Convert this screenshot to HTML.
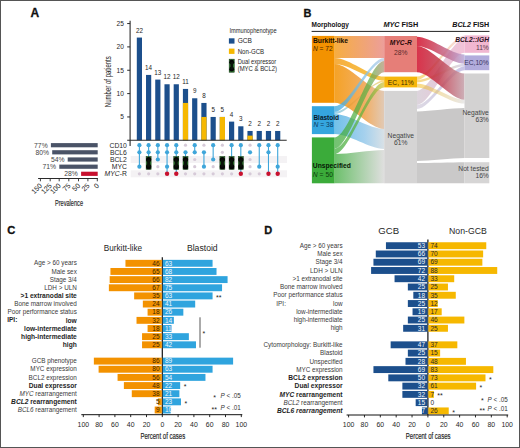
<!DOCTYPE html><html><head><meta charset="utf-8"><style>html,body{margin:0;padding:0;background:#fff;}svg{display:block;}</style></head><body><svg width="520" height="448" viewBox="0 0 520 448" font-family='"Liberation Sans", sans-serif'><defs><linearGradient id="g0" x1="334.6" y1="0" x2="384.2" y2="0" gradientUnits="userSpaceOnUse"><stop offset="0" stop-color="#35a6df"/><stop offset="1" stop-color="#f6b60a"/></linearGradient><linearGradient id="g1" x1="334.6" y1="0" x2="384.2" y2="0" gradientUnits="userSpaceOnUse"><stop offset="0" stop-color="#35a6df"/><stop offset="0.6" stop-color="#7fbde6"/><stop offset="1" stop-color="#c8d4dc"/></linearGradient><linearGradient id="g2" x1="334.6" y1="0" x2="384.2" y2="0" gradientUnits="userSpaceOnUse"><stop offset="0" stop-color="#f39200"/><stop offset="1" stop-color="#e67e78"/></linearGradient><linearGradient id="g3" x1="334.6" y1="0" x2="384.2" y2="0" gradientUnits="userSpaceOnUse"><stop offset="0" stop-color="#f39200"/><stop offset="1" stop-color="#f6b60a"/></linearGradient><linearGradient id="g4" x1="334.6" y1="0" x2="384.2" y2="0" gradientUnits="userSpaceOnUse"><stop offset="0" stop-color="#f39200"/><stop offset="0.6" stop-color="#f0a048"/><stop offset="1" stop-color="#dcc0a8"/></linearGradient><linearGradient id="g5" x1="334.6" y1="0" x2="384.2" y2="0" gradientUnits="userSpaceOnUse"><stop offset="0" stop-color="#35a6df"/><stop offset="0.7" stop-color="#8cc4ea"/><stop offset="1" stop-color="#b8c8e0"/></linearGradient><linearGradient id="g6" x1="334.6" y1="0" x2="384.2" y2="0" gradientUnits="userSpaceOnUse"><stop offset="0" stop-color="#3bab3a"/><stop offset="0.7" stop-color="#60b048"/><stop offset="1" stop-color="#b09070"/></linearGradient><linearGradient id="g7" x1="334.6" y1="0" x2="384.2" y2="0" gradientUnits="userSpaceOnUse"><stop offset="0" stop-color="#3bab3a"/><stop offset="0.7" stop-color="#6cb440"/><stop offset="1" stop-color="#d8c030"/></linearGradient><linearGradient id="g8" x1="334.6" y1="0" x2="384.2" y2="0" gradientUnits="userSpaceOnUse"><stop offset="0" stop-color="#3bab3a"/><stop offset="1" stop-color="#d5d4d4"/></linearGradient><linearGradient id="g9" x1="417.0" y1="0" x2="464.5" y2="0" gradientUnits="userSpaceOnUse"><stop offset="0" stop-color="#d6cdd6"/><stop offset="0.5" stop-color="#e0c0d4"/><stop offset="1" stop-color="#f1b7d1"/></linearGradient><linearGradient id="g10" x1="417.0" y1="0" x2="464.5" y2="0" gradientUnits="userSpaceOnUse"><stop offset="0" stop-color="#d0cad8"/><stop offset="1" stop-color="#b2acdc"/></linearGradient><linearGradient id="g11" x1="417.0" y1="0" x2="464.5" y2="0" gradientUnits="userSpaceOnUse"><stop offset="0" stop-color="#c9c8c8"/><stop offset="1" stop-color="#c9c8c8"/></linearGradient><linearGradient id="g12" x1="417.0" y1="0" x2="464.5" y2="0" gradientUnits="userSpaceOnUse"><stop offset="0" stop-color="#cac9c9"/><stop offset="1" stop-color="#cac9c9"/></linearGradient><linearGradient id="g13" x1="417.0" y1="0" x2="464.5" y2="0" gradientUnits="userSpaceOnUse"><stop offset="0" stop-color="#f6b60a"/><stop offset="1" stop-color="#f1b7d1"/></linearGradient><linearGradient id="g14" x1="417.0" y1="0" x2="464.5" y2="0" gradientUnits="userSpaceOnUse"><stop offset="0" stop-color="#f6b60a"/><stop offset="1" stop-color="#b2acdc"/></linearGradient><linearGradient id="g15" x1="417.0" y1="0" x2="464.5" y2="0" gradientUnits="userSpaceOnUse"><stop offset="0" stop-color="#f6b60a"/><stop offset="1" stop-color="#d3d2d2"/></linearGradient><linearGradient id="g16" x1="417.0" y1="0" x2="464.5" y2="0" gradientUnits="userSpaceOnUse"><stop offset="0" stop-color="#d2102c"/><stop offset="0.35" stop-color="#cc4058"/><stop offset="1" stop-color="#b8a8d8"/></linearGradient><linearGradient id="g17" x1="417.0" y1="0" x2="464.5" y2="0" gradientUnits="userSpaceOnUse"><stop offset="0" stop-color="#d2102c"/><stop offset="0.45" stop-color="#c23a4c"/><stop offset="1" stop-color="#c4a0aa"/></linearGradient></defs><rect x="0" y="0" width="520" height="448" fill="#fff"/><text x="30.60" y="17.24" font-size="12.0" text-anchor="start" fill="#111" font-weight="bold" stroke="#111" stroke-width="0.3">A</text>
<line x1="130.10" y1="20.80" x2="130.10" y2="146.00" stroke="#2a2a2a" stroke-width="1.1"/>
<line x1="127.20" y1="116.95" x2="130.10" y2="116.95" stroke="#2a2a2a" stroke-width="1.0"/>
<text x="123.90" y="119.23" font-size="6.6" text-anchor="end" fill="#262626">5</text>
<line x1="127.20" y1="93.60" x2="130.10" y2="93.60" stroke="#2a2a2a" stroke-width="1.0"/>
<text x="123.90" y="95.88" font-size="6.6" text-anchor="end" fill="#262626">10</text>
<line x1="127.20" y1="70.25" x2="130.10" y2="70.25" stroke="#2a2a2a" stroke-width="1.0"/>
<text x="123.90" y="72.53" font-size="6.6" text-anchor="end" fill="#262626">15</text>
<line x1="127.20" y1="46.90" x2="130.10" y2="46.90" stroke="#2a2a2a" stroke-width="1.0"/>
<text x="123.90" y="49.18" font-size="6.6" text-anchor="end" fill="#262626">20</text>
<line x1="127.20" y1="23.55" x2="130.10" y2="23.55" stroke="#2a2a2a" stroke-width="1.0"/>
<text x="123.90" y="25.83" font-size="6.6" text-anchor="end" fill="#262626">25</text>
<text x="0" y="0" font-size="8.4" text-anchor="middle" fill="#1e1e1e" textLength="51" lengthAdjust="spacingAndGlyphs" transform="translate(110.7,81.7) rotate(-90)">Number of patients</text>
<rect x="136.80" y="37.56" width="5.20" height="102.74" fill="#1c4f8c"/>
<text x="139.40" y="32.73" font-size="6.3" text-anchor="middle" fill="#262626">22</text>
<rect x="146.02" y="74.92" width="5.20" height="65.38" fill="#1c4f8c"/>
<text x="148.62" y="70.09" font-size="6.3" text-anchor="middle" fill="#262626">14</text>
<rect x="155.24" y="79.59" width="5.20" height="60.71" fill="#1c4f8c"/>
<text x="157.84" y="74.76" font-size="6.3" text-anchor="middle" fill="#262626">13</text>
<rect x="164.46" y="84.26" width="5.20" height="56.04" fill="#1c4f8c"/>
<text x="167.06" y="79.43" font-size="6.3" text-anchor="middle" fill="#262626">12</text>
<rect x="173.68" y="84.26" width="5.20" height="56.04" fill="#1c4f8c"/>
<text x="176.28" y="79.43" font-size="6.3" text-anchor="middle" fill="#262626">12</text>
<rect x="182.90" y="88.93" width="5.20" height="51.37" fill="#1c4f8c"/>
<rect x="182.90" y="102.94" width="5.20" height="37.36" fill="#f6b800"/>
<text x="185.50" y="84.10" font-size="6.3" text-anchor="middle" fill="#262626">11</text>
<rect x="192.12" y="98.27" width="5.20" height="42.03" fill="#1c4f8c"/>
<text x="194.72" y="93.44" font-size="6.3" text-anchor="middle" fill="#262626">9</text>
<rect x="201.34" y="102.94" width="5.20" height="37.36" fill="#1c4f8c"/>
<rect x="201.34" y="116.95" width="5.20" height="23.35" fill="#f6b800"/>
<text x="203.94" y="98.11" font-size="6.3" text-anchor="middle" fill="#262626">8</text>
<rect x="210.56" y="116.95" width="5.20" height="23.35" fill="#1c4f8c"/>
<text x="213.16" y="112.12" font-size="6.3" text-anchor="middle" fill="#262626">5</text>
<rect x="219.78" y="116.95" width="5.20" height="23.35" fill="#1c4f8c"/>
<rect x="219.78" y="116.95" width="5.20" height="23.35" fill="#f6b800"/>
<text x="222.38" y="112.12" font-size="6.3" text-anchor="middle" fill="#262626">5</text>
<rect x="229.00" y="121.62" width="5.20" height="18.68" fill="#1c4f8c"/>
<text x="231.60" y="116.79" font-size="6.3" text-anchor="middle" fill="#262626">4</text>
<rect x="238.22" y="126.29" width="5.20" height="14.01" fill="#1c4f8c"/>
<text x="240.82" y="121.46" font-size="6.3" text-anchor="middle" fill="#262626">3</text>
<rect x="247.44" y="130.96" width="5.20" height="9.34" fill="#1c4f8c"/>
<rect x="247.44" y="135.63" width="5.20" height="4.67" fill="#f6b800"/>
<text x="250.04" y="126.13" font-size="6.3" text-anchor="middle" fill="#262626">2</text>
<rect x="256.66" y="130.96" width="5.20" height="9.34" fill="#1c4f8c"/>
<text x="259.26" y="126.13" font-size="6.3" text-anchor="middle" fill="#262626">2</text>
<rect x="265.88" y="130.96" width="5.20" height="9.34" fill="#1c4f8c"/>
<text x="268.48" y="126.13" font-size="6.3" text-anchor="middle" fill="#262626">2</text>
<rect x="275.10" y="130.96" width="5.20" height="9.34" fill="#1c4f8c"/>
<text x="277.70" y="126.13" font-size="6.3" text-anchor="middle" fill="#262626">2</text>
<line x1="127.20" y1="140.30" x2="286.70" y2="140.30" stroke="#2a2a2a" stroke-width="1.1"/>
<text x="229.40" y="33.07" font-size="6.3" text-anchor="start" fill="#262626" textLength="47.20" lengthAdjust="spacingAndGlyphs">Immunophenotype</text>
<rect x="228.90" y="38.30" width="5.60" height="5.30" fill="#1c4f8c"/>
<text x="237.70" y="43.38" font-size="6.6" text-anchor="start" fill="#262626">GCB</text>
<rect x="228.90" y="48.60" width="5.60" height="5.30" fill="#f6b800"/>
<text x="237.70" y="53.58" font-size="6.6" text-anchor="start" fill="#262626" textLength="26.50" lengthAdjust="spacingAndGlyphs">Non-GCB</text>
<rect x="229.20" y="59.20" width="5.00" height="13.00" fill="#2f7d32" stroke="#143d14" stroke-width="0.6"/>
<circle cx="231.70" cy="62.20" r="2.4" fill="#050505"/>
<circle cx="231.70" cy="69.20" r="2.4" fill="#050505"/>
<rect x="230.40" y="62.00" width="2.60" height="7.40" fill="#0a140a"/>
<text x="237.70" y="64.28" font-size="6.6" text-anchor="start" fill="#262626" textLength="38.40" lengthAdjust="spacingAndGlyphs">Dual expressor</text>
<text x="237.70" y="71.28" font-size="6.6" text-anchor="start" fill="#262626" textLength="39.30" lengthAdjust="spacingAndGlyphs">(MYC &amp; BCL2)</text>
<text x="126.90" y="147.55" font-size="6.8" text-anchor="end" fill="#262626">CD10</text>
<text x="126.90" y="154.65" font-size="6.8" text-anchor="end" fill="#262626">BCL6</text>
<text x="126.90" y="161.85" font-size="6.8" text-anchor="end" fill="#262626">BCL2</text>
<text x="126.90" y="169.05" font-size="6.8" text-anchor="end" fill="#262626">MYC</text>
<text x="126.90" y="176.15" font-size="6.8" text-anchor="end" fill="#262626"><tspan font-style="italic">MYC</tspan>-R</text>
<rect x="130.70" y="156.00" width="156.30" height="7.00" fill="#f4f2f4"/>
<rect x="130.70" y="170.30" width="156.30" height="7.00" fill="#f4f2f4"/>
<line x1="139.40" y1="145.20" x2="139.40" y2="166.70" stroke="#3fa6da" stroke-width="1.1"/>
<circle cx="139.40" cy="145.20" r="2.1" fill="#3fa6da"/>
<circle cx="139.40" cy="152.30" r="2.1" fill="#3fa6da"/>
<circle cx="139.40" cy="166.70" r="2.1" fill="#3fa6da"/>
<circle cx="139.40" cy="173.80" r="1.6" fill="#d6cad8"/>
<line x1="148.62" y1="145.20" x2="148.62" y2="166.70" stroke="#3fa6da" stroke-width="1.1"/>
<circle cx="148.62" cy="145.20" r="2.1" fill="#3fa6da"/>
<circle cx="148.62" cy="152.30" r="2.1" fill="#3fa6da"/>
<circle cx="148.62" cy="173.80" r="1.6" fill="#d6cad8"/>
<rect x="146.12" y="156.50" width="5.00" height="12.80" fill="#2a7a2a" stroke="#0e2e0e" stroke-width="0.5"/>
<circle cx="148.62" cy="159.50" r="2.6" fill="#050505"/>
<circle cx="148.62" cy="166.70" r="2.6" fill="#050505"/>
<rect x="147.12" y="159.50" width="3.00" height="7.20" fill="#081208"/>
<line x1="157.84" y1="145.20" x2="157.84" y2="159.50" stroke="#3fa6da" stroke-width="1.1"/>
<circle cx="157.84" cy="145.20" r="2.1" fill="#3fa6da"/>
<circle cx="157.84" cy="152.30" r="2.1" fill="#3fa6da"/>
<circle cx="157.84" cy="159.50" r="2.1" fill="#3fa6da"/>
<circle cx="157.84" cy="166.70" r="1.6" fill="#d6cad8"/>
<circle cx="157.84" cy="173.80" r="1.6" fill="#d6cad8"/>
<line x1="167.06" y1="145.20" x2="167.06" y2="173.80" stroke="#3fa6da" stroke-width="1.1"/>
<circle cx="167.06" cy="145.20" r="2.1" fill="#3fa6da"/>
<circle cx="167.06" cy="152.30" r="2.1" fill="#3fa6da"/>
<circle cx="167.06" cy="166.70" r="2.1" fill="#3fa6da"/>
<circle cx="167.06" cy="173.80" r="2.2" fill="#c8102e"/>
<line x1="176.28" y1="145.20" x2="176.28" y2="173.80" stroke="#3fa6da" stroke-width="1.1"/>
<circle cx="176.28" cy="145.20" r="2.1" fill="#3fa6da"/>
<circle cx="176.28" cy="152.30" r="2.1" fill="#3fa6da"/>
<circle cx="176.28" cy="173.80" r="2.2" fill="#c8102e"/>
<rect x="173.78" y="156.50" width="5.00" height="12.80" fill="#2a7a2a" stroke="#0e2e0e" stroke-width="0.5"/>
<circle cx="176.28" cy="159.50" r="2.6" fill="#050505"/>
<circle cx="176.28" cy="166.70" r="2.6" fill="#050505"/>
<rect x="174.78" y="159.50" width="3.00" height="7.20" fill="#081208"/>
<line x1="185.50" y1="152.30" x2="185.50" y2="166.70" stroke="#3fa6da" stroke-width="1.1"/>
<circle cx="185.50" cy="145.20" r="1.6" fill="#d6cad8"/>
<circle cx="185.50" cy="152.30" r="2.1" fill="#3fa6da"/>
<circle cx="185.50" cy="173.80" r="1.6" fill="#d6cad8"/>
<rect x="183.00" y="156.50" width="5.00" height="12.80" fill="#2a7a2a" stroke="#0e2e0e" stroke-width="0.5"/>
<circle cx="185.50" cy="159.50" r="2.6" fill="#050505"/>
<circle cx="185.50" cy="166.70" r="2.6" fill="#050505"/>
<rect x="184.00" y="159.50" width="3.00" height="7.20" fill="#081208"/>
<line x1="194.72" y1="145.20" x2="194.72" y2="152.30" stroke="#3fa6da" stroke-width="1.1"/>
<circle cx="194.72" cy="145.20" r="2.1" fill="#3fa6da"/>
<circle cx="194.72" cy="152.30" r="2.1" fill="#3fa6da"/>
<circle cx="194.72" cy="159.50" r="1.6" fill="#d6cad8"/>
<circle cx="194.72" cy="166.70" r="1.6" fill="#d6cad8"/>
<circle cx="194.72" cy="173.80" r="1.6" fill="#d6cad8"/>
<line x1="203.94" y1="152.30" x2="203.94" y2="166.70" stroke="#3fa6da" stroke-width="1.1"/>
<circle cx="203.94" cy="145.20" r="1.6" fill="#d6cad8"/>
<circle cx="203.94" cy="152.30" r="2.1" fill="#3fa6da"/>
<circle cx="203.94" cy="166.70" r="2.1" fill="#3fa6da"/>
<circle cx="203.94" cy="173.80" r="1.6" fill="#d6cad8"/>
<line x1="213.16" y1="145.20" x2="213.16" y2="159.50" stroke="#3fa6da" stroke-width="1.1"/>
<circle cx="213.16" cy="145.20" r="2.1" fill="#3fa6da"/>
<circle cx="213.16" cy="159.50" r="2.1" fill="#3fa6da"/>
<circle cx="213.16" cy="166.70" r="1.6" fill="#d6cad8"/>
<circle cx="213.16" cy="173.80" r="1.6" fill="#d6cad8"/>
<line x1="222.38" y1="159.50" x2="222.38" y2="166.70" stroke="#3fa6da" stroke-width="1.1"/>
<circle cx="222.38" cy="145.20" r="1.6" fill="#d6cad8"/>
<circle cx="222.38" cy="152.30" r="1.6" fill="#d6cad8"/>
<circle cx="222.38" cy="173.80" r="1.6" fill="#d6cad8"/>
<rect x="219.88" y="156.50" width="5.00" height="12.80" fill="#2a7a2a" stroke="#0e2e0e" stroke-width="0.5"/>
<circle cx="222.38" cy="159.50" r="2.6" fill="#050505"/>
<circle cx="222.38" cy="166.70" r="2.6" fill="#050505"/>
<rect x="220.88" y="159.50" width="3.00" height="7.20" fill="#081208"/>
<line x1="231.60" y1="145.20" x2="231.60" y2="166.70" stroke="#3fa6da" stroke-width="1.1"/>
<circle cx="231.60" cy="145.20" r="2.1" fill="#3fa6da"/>
<circle cx="231.60" cy="173.80" r="1.6" fill="#d6cad8"/>
<rect x="229.10" y="156.50" width="5.00" height="12.80" fill="#2a7a2a" stroke="#0e2e0e" stroke-width="0.5"/>
<circle cx="231.60" cy="159.50" r="2.6" fill="#050505"/>
<circle cx="231.60" cy="166.70" r="2.6" fill="#050505"/>
<rect x="230.10" y="159.50" width="3.00" height="7.20" fill="#081208"/>
<line x1="240.82" y1="145.20" x2="240.82" y2="173.80" stroke="#3fa6da" stroke-width="1.1"/>
<circle cx="240.82" cy="145.20" r="2.1" fill="#3fa6da"/>
<circle cx="240.82" cy="173.80" r="2.2" fill="#c8102e"/>
<rect x="238.32" y="156.50" width="5.00" height="12.80" fill="#2a7a2a" stroke="#0e2e0e" stroke-width="0.5"/>
<circle cx="240.82" cy="159.50" r="2.6" fill="#050505"/>
<circle cx="240.82" cy="166.70" r="2.6" fill="#050505"/>
<rect x="239.32" y="159.50" width="3.00" height="7.20" fill="#081208"/>
<circle cx="250.04" cy="145.20" r="1.6" fill="#d6cad8"/>
<circle cx="250.04" cy="152.30" r="2.1" fill="#3fa6da"/>
<circle cx="250.04" cy="159.50" r="1.6" fill="#d6cad8"/>
<circle cx="250.04" cy="166.70" r="1.6" fill="#d6cad8"/>
<circle cx="250.04" cy="173.80" r="1.6" fill="#d6cad8"/>
<line x1="259.26" y1="145.20" x2="259.26" y2="166.70" stroke="#3fa6da" stroke-width="1.1"/>
<circle cx="259.26" cy="145.20" r="2.1" fill="#3fa6da"/>
<circle cx="259.26" cy="166.70" r="2.1" fill="#3fa6da"/>
<circle cx="259.26" cy="173.80" r="1.6" fill="#d6cad8"/>
<line x1="268.48" y1="145.20" x2="268.48" y2="173.80" stroke="#3fa6da" stroke-width="1.1"/>
<circle cx="268.48" cy="145.20" r="2.1" fill="#3fa6da"/>
<circle cx="268.48" cy="152.30" r="2.1" fill="#3fa6da"/>
<circle cx="268.48" cy="173.80" r="2.2" fill="#c8102e"/>
<line x1="277.70" y1="145.20" x2="277.70" y2="173.80" stroke="#3fa6da" stroke-width="1.1"/>
<circle cx="277.70" cy="145.20" r="2.1" fill="#3fa6da"/>
<circle cx="277.70" cy="166.70" r="2.1" fill="#3fa6da"/>
<circle cx="277.70" cy="173.80" r="2.2" fill="#c8102e"/>
<rect x="50.90" y="143.10" width="46.80" height="4.20" fill="#4a5367"/>
<text x="47.70" y="147.55" font-size="6.8" text-anchor="end" fill="#444">77%</text>
<rect x="52.20" y="150.20" width="45.50" height="4.20" fill="#4a5367"/>
<text x="49.00" y="154.65" font-size="6.8" text-anchor="end" fill="#444">80%</text>
<rect x="67.70" y="157.40" width="30.00" height="4.20" fill="#4a5367"/>
<text x="64.50" y="161.85" font-size="6.8" text-anchor="end" fill="#444">54%</text>
<rect x="59.30" y="164.60" width="38.40" height="4.20" fill="#4a5367"/>
<text x="56.10" y="169.05" font-size="6.8" text-anchor="end" fill="#444">71%</text>
<rect x="81.10" y="171.70" width="16.60" height="4.20" fill="#c8102e"/>
<text x="77.90" y="176.15" font-size="6.8" text-anchor="end" fill="#444">28%</text>
<line x1="38.10" y1="178.50" x2="97.90" y2="178.50" stroke="#2a2a2a" stroke-width="1.1"/>
<line x1="40.40" y1="178.50" x2="40.40" y2="181.30" stroke="#2a2a2a" stroke-width="0.9"/>
<text x="0" y="0" font-size="7.1" text-anchor="end" fill="#262626" transform="translate(42.60,186.2) rotate(-45)">150</text>
<line x1="50.20" y1="178.50" x2="50.20" y2="181.30" stroke="#2a2a2a" stroke-width="0.9"/>
<text x="0" y="0" font-size="7.1" text-anchor="end" fill="#262626" transform="translate(52.40,186.2) rotate(-45)">125</text>
<line x1="59.20" y1="178.50" x2="59.20" y2="181.30" stroke="#2a2a2a" stroke-width="0.9"/>
<text x="0" y="0" font-size="7.1" text-anchor="end" fill="#262626" transform="translate(61.40,186.2) rotate(-45)">100</text>
<line x1="68.80" y1="178.50" x2="68.80" y2="181.30" stroke="#2a2a2a" stroke-width="0.9"/>
<text x="0" y="0" font-size="7.1" text-anchor="end" fill="#262626" transform="translate(71.00,186.2) rotate(-45)">75</text>
<line x1="78.50" y1="178.50" x2="78.50" y2="181.30" stroke="#2a2a2a" stroke-width="0.9"/>
<text x="0" y="0" font-size="7.1" text-anchor="end" fill="#262626" transform="translate(80.70,186.2) rotate(-45)">50</text>
<line x1="87.90" y1="178.50" x2="87.90" y2="181.30" stroke="#2a2a2a" stroke-width="0.9"/>
<text x="0" y="0" font-size="7.1" text-anchor="end" fill="#262626" transform="translate(90.10,186.2) rotate(-45)">25</text>
<line x1="97.30" y1="178.50" x2="97.30" y2="181.30" stroke="#2a2a2a" stroke-width="0.9"/>
<text x="0" y="0" font-size="7.1" text-anchor="end" fill="#262626" transform="translate(99.50,186.2) rotate(-45)">0</text>
<text x="69.00" y="205.77" font-size="8.6" text-anchor="middle" fill="#1e1e1e" textLength="28.00" lengthAdjust="spacingAndGlyphs" stroke="#1e1e1e" stroke-width="0.15">Prevalence</text>
<text x="7.30" y="233.66" font-size="11.2" text-anchor="start" fill="#111" font-weight="bold" stroke="#111" stroke-width="0.3">C</text>
<text x="122.90" y="251.16" font-size="8.3" text-anchor="middle" fill="#1e1e1e" textLength="38.40" lengthAdjust="spacingAndGlyphs">Burkitt-like</text>
<text x="202.30" y="251.16" font-size="8.3" text-anchor="middle" fill="#1e1e1e" textLength="30.80" lengthAdjust="spacingAndGlyphs">Blastoid</text>
<line x1="162.30" y1="257.20" x2="162.30" y2="414.70" stroke="#111" stroke-width="1.2"/>
<rect x="125.46" y="259.85" width="36.34" height="6.90" fill="#f39200"/>
<rect x="162.80" y="259.85" width="49.77" height="6.90" fill="#2fa4de"/>
<text x="159.50" y="265.54" font-size="6.5" text-anchor="end" fill="#3a2500">46</text>
<text x="164.90" y="265.54" font-size="6.5" text-anchor="start" fill="#f0f8fd">63</text>
<text x="76.80" y="265.48" font-size="6.33" text-anchor="end" fill="#3a3a3a">Age &gt; 60 years</text>
<rect x="110.45" y="268.00" width="51.35" height="6.90" fill="#f39200"/>
<rect x="162.80" y="268.00" width="53.72" height="6.90" fill="#2fa4de"/>
<text x="159.50" y="273.69" font-size="6.5" text-anchor="end" fill="#3a2500">65</text>
<text x="164.90" y="273.69" font-size="6.5" text-anchor="start" fill="#f0f8fd">68</text>
<text x="76.80" y="273.63" font-size="6.33" text-anchor="end" fill="#3a3a3a">Male sex</text>
<rect x="109.66" y="276.15" width="52.14" height="6.90" fill="#f39200"/>
<rect x="162.80" y="276.15" width="64.78" height="6.90" fill="#2fa4de"/>
<text x="159.50" y="281.84" font-size="6.5" text-anchor="end" fill="#3a2500">66</text>
<text x="164.90" y="281.84" font-size="6.5" text-anchor="start" fill="#f0f8fd">82</text>
<text x="76.80" y="281.78" font-size="6.33" text-anchor="end" fill="#3a3a3a">Stage 3/4</text>
<rect x="108.87" y="284.30" width="52.93" height="6.90" fill="#f39200"/>
<rect x="162.80" y="284.30" width="59.25" height="6.90" fill="#2fa4de"/>
<text x="159.50" y="289.99" font-size="6.5" text-anchor="end" fill="#3a2500">67</text>
<text x="164.90" y="289.99" font-size="6.5" text-anchor="start" fill="#f0f8fd">75</text>
<text x="76.80" y="289.93" font-size="6.33" text-anchor="end" fill="#3a3a3a">LDH &gt; ULN</text>
<rect x="134.15" y="292.45" width="27.65" height="6.90" fill="#f39200"/>
<rect x="162.80" y="292.45" width="49.77" height="6.90" fill="#2fa4de"/>
<text x="159.50" y="298.14" font-size="6.5" text-anchor="end" fill="#3a2500">35</text>
<text x="164.90" y="298.14" font-size="6.5" text-anchor="start" fill="#f0f8fd">63</text>
<text x="76.80" y="298.19" font-size="6.65" text-anchor="end" fill="#1e1e1e" font-weight="bold">&gt;1 extranodal site</text>
<text x="216.07" y="299.82" font-size="7.0" text-anchor="start" fill="#222">**</text>
<rect x="142.84" y="300.60" width="18.96" height="6.90" fill="#f39200"/>
<rect x="162.80" y="300.60" width="32.39" height="6.90" fill="#2fa4de"/>
<text x="159.50" y="306.29" font-size="6.5" text-anchor="end" fill="#3a2500">24</text>
<text x="164.90" y="306.29" font-size="6.5" text-anchor="start" fill="#f0f8fd">41</text>
<text x="76.80" y="306.23" font-size="6.33" text-anchor="end" fill="#3a3a3a">Bone marrow involved</text>
<rect x="147.58" y="308.75" width="14.22" height="6.90" fill="#f39200"/>
<rect x="162.80" y="308.75" width="20.54" height="6.90" fill="#2fa4de"/>
<text x="159.50" y="314.44" font-size="6.5" text-anchor="end" fill="#3a2500">18</text>
<text x="164.90" y="314.44" font-size="6.5" text-anchor="start" fill="#f0f8fd">26</text>
<text x="76.80" y="314.38" font-size="6.33" text-anchor="end" fill="#3a3a3a">Poor performance status</text>
<rect x="136.52" y="316.90" width="25.28" height="6.90" fill="#f39200"/>
<rect x="162.80" y="316.90" width="11.06" height="6.90" fill="#2fa4de"/>
<text x="159.50" y="322.59" font-size="6.5" text-anchor="end" fill="#3a2500">32</text>
<text x="164.90" y="322.59" font-size="6.5" text-anchor="start" fill="#f0f8fd">14</text>
<text x="76.80" y="322.64" font-size="6.65" text-anchor="end" fill="#1e1e1e" font-weight="bold">low</text>
<rect x="147.58" y="325.05" width="14.22" height="6.90" fill="#f39200"/>
<rect x="162.80" y="325.05" width="8.69" height="6.90" fill="#2fa4de"/>
<text x="159.50" y="330.74" font-size="6.5" text-anchor="end" fill="#3a2500">18</text>
<text x="164.90" y="330.74" font-size="6.5" text-anchor="start" fill="#f0f8fd">11</text>
<text x="76.80" y="330.79" font-size="6.65" text-anchor="end" fill="#1e1e1e" font-weight="bold">low-intermediate</text>
<rect x="142.05" y="333.20" width="19.75" height="6.90" fill="#f39200"/>
<rect x="162.80" y="333.20" width="26.07" height="6.90" fill="#2fa4de"/>
<text x="159.50" y="338.89" font-size="6.5" text-anchor="end" fill="#3a2500">25</text>
<text x="164.90" y="338.89" font-size="6.5" text-anchor="start" fill="#f0f8fd">33</text>
<text x="76.80" y="338.94" font-size="6.65" text-anchor="end" fill="#1e1e1e" font-weight="bold">high-intermediate</text>
<rect x="142.05" y="341.35" width="19.75" height="6.90" fill="#f39200"/>
<rect x="162.80" y="341.35" width="33.18" height="6.90" fill="#2fa4de"/>
<text x="159.50" y="347.04" font-size="6.5" text-anchor="end" fill="#3a2500">25</text>
<text x="164.90" y="347.04" font-size="6.5" text-anchor="start" fill="#f0f8fd">42</text>
<text x="76.80" y="347.09" font-size="6.65" text-anchor="end" fill="#1e1e1e" font-weight="bold">high</text>
<rect x="93.86" y="357.65" width="67.94" height="6.90" fill="#f39200"/>
<rect x="162.80" y="357.65" width="70.31" height="6.90" fill="#2fa4de"/>
<text x="159.50" y="363.34" font-size="6.5" text-anchor="end" fill="#3a2500">86</text>
<text x="164.90" y="363.34" font-size="6.5" text-anchor="start" fill="#f0f8fd">89</text>
<text x="76.80" y="363.28" font-size="6.33" text-anchor="end" fill="#3a3a3a">GCB phenotype</text>
<rect x="98.60" y="365.80" width="63.20" height="6.90" fill="#f39200"/>
<rect x="162.80" y="365.80" width="49.77" height="6.90" fill="#2fa4de"/>
<text x="159.50" y="371.49" font-size="6.5" text-anchor="end" fill="#3a2500">80</text>
<text x="164.90" y="371.49" font-size="6.5" text-anchor="start" fill="#f0f8fd">63</text>
<text x="76.80" y="371.43" font-size="6.33" text-anchor="end" fill="#3a3a3a">MYC expression</text>
<rect x="117.56" y="373.95" width="44.24" height="6.90" fill="#f39200"/>
<rect x="162.80" y="373.95" width="42.66" height="6.90" fill="#2fa4de"/>
<text x="159.50" y="379.64" font-size="6.5" text-anchor="end" fill="#3a2500">56</text>
<text x="164.90" y="379.64" font-size="6.5" text-anchor="start" fill="#f0f8fd">54</text>
<text x="76.80" y="379.58" font-size="6.33" text-anchor="end" fill="#3a3a3a">BCL2 expression</text>
<rect x="123.88" y="382.10" width="37.92" height="6.90" fill="#f39200"/>
<rect x="162.80" y="382.10" width="17.38" height="6.90" fill="#2fa4de"/>
<text x="159.50" y="387.79" font-size="6.5" text-anchor="end" fill="#3a2500">48</text>
<text x="164.90" y="387.79" font-size="6.5" text-anchor="start" fill="#f0f8fd">22</text>
<text x="76.80" y="387.84" font-size="6.65" text-anchor="end" fill="#1e1e1e" font-weight="bold">Dual expressor</text>
<text x="183.68" y="389.47" font-size="7.0" text-anchor="start" fill="#222">*</text>
<rect x="131.78" y="390.25" width="30.02" height="6.90" fill="#f39200"/>
<rect x="162.80" y="390.25" width="16.59" height="6.90" fill="#2fa4de"/>
<text x="159.50" y="395.94" font-size="6.5" text-anchor="end" fill="#3a2500">38</text>
<text x="164.90" y="395.94" font-size="6.5" text-anchor="start" fill="#f0f8fd">21</text>
<text x="76.80" y="395.88" font-size="6.33" text-anchor="end" fill="#3a3a3a"><tspan font-style="italic">MYC</tspan> rearrangement</text>
<rect x="157.85" y="398.40" width="3.95" height="6.90" fill="#f39200"/>
<rect x="162.80" y="398.40" width="18.17" height="6.90" fill="#2fa4de"/>
<text x="159.50" y="404.09" font-size="6.5" text-anchor="end" fill="#3a2500">5</text>
<text x="164.90" y="404.09" font-size="6.5" text-anchor="start" fill="#f0f8fd">23</text>
<text x="76.80" y="404.14" font-size="6.65" text-anchor="end" fill="#1e1e1e" font-weight="bold"><tspan font-style="italic">BCL2</tspan> rearrangement</text>
<text x="184.47" y="405.77" font-size="7.0" text-anchor="start" fill="#222">*</text>
<rect x="154.69" y="406.55" width="7.11" height="6.90" fill="#f39200"/>
<rect x="162.80" y="406.55" width="7.90" height="6.90" fill="#2fa4de"/>
<text x="159.50" y="412.24" font-size="6.5" text-anchor="end" fill="#3a2500">9</text>
<text x="164.90" y="412.24" font-size="6.5" text-anchor="start" fill="#f0f8fd">10</text>
<text x="76.80" y="412.18" font-size="6.33" text-anchor="end" fill="#3a3a3a"><tspan font-style="italic">BCL6</tspan> rearrangement</text>
<line x1="81.30" y1="414.70" x2="242.30" y2="414.70" stroke="#111" stroke-width="1.0"/>
<line x1="162.30" y1="414.70" x2="162.30" y2="417.10" stroke="#111" stroke-width="0.9"/>
<text x="162.30" y="426.98" font-size="6.9" text-anchor="middle" fill="#262626">0</text>
<line x1="146.50" y1="414.70" x2="146.50" y2="417.10" stroke="#111" stroke-width="0.9"/>
<text x="146.50" y="426.98" font-size="6.9" text-anchor="middle" fill="#262626">20</text>
<line x1="178.10" y1="414.70" x2="178.10" y2="417.10" stroke="#111" stroke-width="0.9"/>
<text x="178.10" y="426.98" font-size="6.9" text-anchor="middle" fill="#262626">20</text>
<line x1="130.70" y1="414.70" x2="130.70" y2="417.10" stroke="#111" stroke-width="0.9"/>
<text x="130.70" y="426.98" font-size="6.9" text-anchor="middle" fill="#262626">40</text>
<line x1="193.90" y1="414.70" x2="193.90" y2="417.10" stroke="#111" stroke-width="0.9"/>
<text x="193.90" y="426.98" font-size="6.9" text-anchor="middle" fill="#262626">40</text>
<line x1="114.90" y1="414.70" x2="114.90" y2="417.10" stroke="#111" stroke-width="0.9"/>
<text x="114.90" y="426.98" font-size="6.9" text-anchor="middle" fill="#262626">60</text>
<line x1="209.70" y1="414.70" x2="209.70" y2="417.10" stroke="#111" stroke-width="0.9"/>
<text x="209.70" y="426.98" font-size="6.9" text-anchor="middle" fill="#262626">60</text>
<line x1="99.10" y1="414.70" x2="99.10" y2="417.10" stroke="#111" stroke-width="0.9"/>
<text x="99.10" y="426.98" font-size="6.9" text-anchor="middle" fill="#262626">80</text>
<line x1="225.50" y1="414.70" x2="225.50" y2="417.10" stroke="#111" stroke-width="0.9"/>
<text x="225.50" y="426.98" font-size="6.9" text-anchor="middle" fill="#262626">80</text>
<line x1="83.30" y1="414.70" x2="83.30" y2="417.10" stroke="#111" stroke-width="0.9"/>
<text x="83.30" y="426.98" font-size="6.9" text-anchor="middle" fill="#262626">100</text>
<line x1="241.30" y1="414.70" x2="241.30" y2="417.10" stroke="#111" stroke-width="0.9"/>
<text x="241.30" y="426.98" font-size="6.9" text-anchor="middle" fill="#262626">100</text>
<text x="7.20" y="322.24" font-size="6.5" text-anchor="start" fill="#222" font-weight="bold">IPI:</text>
<line x1="200.00" y1="317.30" x2="200.00" y2="347.70" stroke="#444" stroke-width="0.9"/>
<text x="202.40" y="336.42" font-size="7.0" text-anchor="start" fill="#222">*</text>
<text x="213.30" y="400.02" font-size="7.0" text-anchor="start" fill="#222">*</text>
<text x="220.50" y="398.37" font-size="6.3" text-anchor="start" fill="#333"><tspan font-style="italic">P</tspan> &lt; .05</text>
<text x="211.60" y="411.62" font-size="7.0" text-anchor="start" fill="#222">**</text>
<text x="220.50" y="409.87" font-size="6.3" text-anchor="start" fill="#333"><tspan font-style="italic">P</tspan> &lt; .01</text>
<text x="162.80" y="439.07" font-size="9.2" text-anchor="middle" fill="#1e1e1e" textLength="44.70" lengthAdjust="spacingAndGlyphs" stroke="#1e1e1e" stroke-width="0.18">Percent of cases</text>
<text x="264.20" y="233.99" font-size="11.0" text-anchor="start" fill="#111" font-weight="bold" stroke="#111" stroke-width="0.3">D</text>
<text x="388.70" y="234.16" font-size="8.3" text-anchor="middle" fill="#1e1e1e" textLength="20.80" lengthAdjust="spacingAndGlyphs">GCB</text>
<text x="467.90" y="234.16" font-size="8.3" text-anchor="middle" fill="#1e1e1e" textLength="37.70" lengthAdjust="spacingAndGlyphs">Non-GCB</text>
<line x1="427.90" y1="239.60" x2="427.90" y2="415.00" stroke="#111" stroke-width="1.2"/>
<rect x="385.95" y="242.25" width="41.45" height="6.90" fill="#1c4f8c"/>
<rect x="428.40" y="242.25" width="57.87" height="6.90" fill="#f6b800"/>
<text x="425.10" y="247.94" font-size="6.5" text-anchor="end" fill="#f4f7fc">53</text>
<text x="430.50" y="247.94" font-size="6.5" text-anchor="start" fill="#2a2a2a">74</text>
<text x="342.60" y="247.88" font-size="6.33" text-anchor="end" fill="#3a3a3a">Age &gt; 60 years</text>
<rect x="375.79" y="250.51" width="51.61" height="6.90" fill="#1c4f8c"/>
<rect x="428.40" y="250.51" width="54.74" height="6.90" fill="#f6b800"/>
<text x="425.10" y="256.20" font-size="6.5" text-anchor="end" fill="#f4f7fc">66</text>
<text x="430.50" y="256.20" font-size="6.5" text-anchor="start" fill="#2a2a2a">70</text>
<text x="342.60" y="256.14" font-size="6.33" text-anchor="end" fill="#3a3a3a">Male sex</text>
<rect x="373.44" y="258.77" width="53.96" height="6.90" fill="#1c4f8c"/>
<rect x="428.40" y="258.77" width="53.96" height="6.90" fill="#f6b800"/>
<text x="425.10" y="264.46" font-size="6.5" text-anchor="end" fill="#f4f7fc">69</text>
<text x="430.50" y="264.46" font-size="6.5" text-anchor="start" fill="#2a2a2a">69</text>
<text x="342.60" y="264.40" font-size="6.33" text-anchor="end" fill="#3a3a3a">Stage 3/4</text>
<rect x="371.10" y="267.03" width="56.30" height="6.90" fill="#1c4f8c"/>
<rect x="428.40" y="267.03" width="68.82" height="6.90" fill="#f6b800"/>
<text x="425.10" y="272.72" font-size="6.5" text-anchor="end" fill="#f4f7fc">72</text>
<text x="430.50" y="272.72" font-size="6.5" text-anchor="start" fill="#2a2a2a">88</text>
<text x="342.60" y="272.66" font-size="6.33" text-anchor="end" fill="#3a3a3a">LDH &gt; ULN</text>
<rect x="394.56" y="275.29" width="32.84" height="6.90" fill="#1c4f8c"/>
<rect x="428.40" y="275.29" width="25.81" height="6.90" fill="#f6b800"/>
<text x="425.10" y="280.98" font-size="6.5" text-anchor="end" fill="#f4f7fc">42</text>
<text x="430.50" y="280.98" font-size="6.5" text-anchor="start" fill="#2a2a2a">33</text>
<text x="342.60" y="280.92" font-size="6.33" text-anchor="end" fill="#3a3a3a">&gt;1 extranodal site</text>
<rect x="407.85" y="283.55" width="19.55" height="6.90" fill="#1c4f8c"/>
<rect x="428.40" y="283.55" width="19.55" height="6.90" fill="#f6b800"/>
<text x="425.10" y="289.24" font-size="6.5" text-anchor="end" fill="#f4f7fc">25</text>
<text x="430.50" y="289.24" font-size="6.5" text-anchor="start" fill="#2a2a2a">25</text>
<text x="342.60" y="289.18" font-size="6.33" text-anchor="end" fill="#3a3a3a">Bone marrow involved</text>
<rect x="413.32" y="291.81" width="14.08" height="6.90" fill="#1c4f8c"/>
<rect x="428.40" y="291.81" width="27.37" height="6.90" fill="#f6b800"/>
<text x="425.10" y="297.50" font-size="6.5" text-anchor="end" fill="#f4f7fc">18</text>
<text x="430.50" y="297.50" font-size="6.5" text-anchor="start" fill="#2a2a2a">35</text>
<text x="342.60" y="297.44" font-size="6.33" text-anchor="end" fill="#3a3a3a">Poor performance status</text>
<rect x="407.85" y="300.07" width="19.55" height="6.90" fill="#1c4f8c"/>
<rect x="428.40" y="300.07" width="9.38" height="6.90" fill="#f6b800"/>
<text x="425.10" y="305.76" font-size="6.5" text-anchor="end" fill="#f4f7fc">25</text>
<text x="430.50" y="305.76" font-size="6.5" text-anchor="start" fill="#2a2a2a">12</text>
<text x="342.60" y="305.70" font-size="6.33" text-anchor="end" fill="#3a3a3a">low</text>
<rect x="412.54" y="308.33" width="14.86" height="6.90" fill="#1c4f8c"/>
<rect x="428.40" y="308.33" width="13.29" height="6.90" fill="#f6b800"/>
<text x="425.10" y="314.02" font-size="6.5" text-anchor="end" fill="#f4f7fc">19</text>
<text x="430.50" y="314.02" font-size="6.5" text-anchor="start" fill="#2a2a2a">17</text>
<text x="342.60" y="313.96" font-size="6.33" text-anchor="end" fill="#3a3a3a">low-intermediate</text>
<rect x="407.85" y="316.59" width="19.55" height="6.90" fill="#1c4f8c"/>
<rect x="428.40" y="316.59" width="35.97" height="6.90" fill="#f6b800"/>
<text x="425.10" y="322.28" font-size="6.5" text-anchor="end" fill="#f4f7fc">25</text>
<text x="430.50" y="322.28" font-size="6.5" text-anchor="start" fill="#2a2a2a">46</text>
<text x="342.60" y="322.22" font-size="6.33" text-anchor="end" fill="#3a3a3a">high-intermediate</text>
<rect x="403.16" y="324.85" width="24.24" height="6.90" fill="#1c4f8c"/>
<rect x="428.40" y="324.85" width="19.55" height="6.90" fill="#f6b800"/>
<text x="425.10" y="330.54" font-size="6.5" text-anchor="end" fill="#f4f7fc">31</text>
<text x="430.50" y="330.54" font-size="6.5" text-anchor="start" fill="#2a2a2a">25</text>
<text x="342.60" y="330.48" font-size="6.33" text-anchor="end" fill="#3a3a3a">high</text>
<rect x="390.65" y="341.37" width="36.75" height="6.90" fill="#1c4f8c"/>
<rect x="428.40" y="341.37" width="28.93" height="6.90" fill="#f6b800"/>
<text x="425.10" y="347.06" font-size="6.5" text-anchor="end" fill="#f4f7fc">47</text>
<text x="430.50" y="347.06" font-size="6.5" text-anchor="start" fill="#2a2a2a">37</text>
<text x="342.60" y="347.00" font-size="6.33" text-anchor="end" fill="#3a3a3a">Cytomorphology: Burkitt-like</text>
<rect x="407.85" y="349.63" width="19.55" height="6.90" fill="#1c4f8c"/>
<rect x="428.40" y="349.63" width="11.73" height="6.90" fill="#f6b800"/>
<text x="425.10" y="355.32" font-size="6.5" text-anchor="end" fill="#f4f7fc">25</text>
<text x="430.50" y="355.32" font-size="6.5" text-anchor="start" fill="#2a2a2a">15</text>
<text x="342.60" y="355.26" font-size="6.33" text-anchor="end" fill="#3a3a3a">Blastoid</text>
<rect x="405.50" y="357.89" width="21.90" height="6.90" fill="#1c4f8c"/>
<rect x="428.40" y="357.89" width="37.54" height="6.90" fill="#f6b800"/>
<text x="425.10" y="363.58" font-size="6.5" text-anchor="end" fill="#f4f7fc">28</text>
<text x="430.50" y="363.58" font-size="6.5" text-anchor="start" fill="#2a2a2a">48</text>
<text x="342.60" y="363.52" font-size="6.33" text-anchor="end" fill="#3a3a3a">Unspecified</text>
<rect x="373.44" y="366.15" width="53.96" height="6.90" fill="#1c4f8c"/>
<rect x="428.40" y="366.15" width="64.91" height="6.90" fill="#f6b800"/>
<text x="425.10" y="371.84" font-size="6.5" text-anchor="end" fill="#f4f7fc">69</text>
<text x="430.50" y="371.84" font-size="6.5" text-anchor="start" fill="#2a2a2a">83</text>
<text x="342.60" y="371.78" font-size="6.33" text-anchor="end" fill="#3a3a3a">MYC expression</text>
<rect x="388.30" y="374.41" width="39.10" height="6.90" fill="#1c4f8c"/>
<rect x="428.40" y="374.41" width="57.09" height="6.90" fill="#f6b800"/>
<text x="425.10" y="380.10" font-size="6.5" text-anchor="end" fill="#f4f7fc">50</text>
<text x="430.50" y="380.10" font-size="6.5" text-anchor="start" fill="#2a2a2a">73</text>
<text x="342.60" y="380.15" font-size="6.65" text-anchor="end" fill="#1e1e1e" font-weight="bold">BCL2 expression</text>
<text x="488.99" y="381.78" font-size="7.0" text-anchor="start" fill="#222">*</text>
<rect x="402.38" y="382.67" width="25.02" height="6.90" fill="#1c4f8c"/>
<rect x="428.40" y="382.67" width="47.70" height="6.90" fill="#f6b800"/>
<text x="425.10" y="388.36" font-size="6.5" text-anchor="end" fill="#f4f7fc">32</text>
<text x="430.50" y="388.36" font-size="6.5" text-anchor="start" fill="#2a2a2a">61</text>
<text x="342.60" y="388.41" font-size="6.65" text-anchor="end" fill="#1e1e1e" font-weight="bold">Dual expressor</text>
<text x="479.60" y="390.04" font-size="7.0" text-anchor="start" fill="#222">*</text>
<rect x="402.38" y="390.93" width="25.02" height="6.90" fill="#1c4f8c"/>
<rect x="428.40" y="390.93" width="5.47" height="6.90" fill="#f6b800"/>
<text x="425.10" y="396.62" font-size="6.5" text-anchor="end" fill="#f4f7fc">32</text>
<text x="430.50" y="396.62" font-size="6.5" text-anchor="start" fill="#2a2a2a">7</text>
<text x="342.60" y="396.67" font-size="6.65" text-anchor="end" fill="#1e1e1e" font-weight="bold"><tspan font-style="italic">MYC</tspan> rearrangement</text>
<text x="437.37" y="398.30" font-size="7.0" text-anchor="start" fill="#222">**</text>
<rect x="415.67" y="399.19" width="11.73" height="6.90" fill="#1c4f8c"/>
<text x="425.10" y="404.88" font-size="6.5" text-anchor="end" fill="#f4f7fc">15</text>
<text x="430.50" y="404.88" font-size="6.5" text-anchor="start" fill="#2a2a2a">0</text>
<text x="342.60" y="404.82" font-size="6.33" text-anchor="end" fill="#3a3a3a"><tspan font-style="italic">BCL2</tspan> rearrangement</text>
<rect x="421.93" y="407.45" width="5.47" height="6.90" fill="#1c4f8c"/>
<rect x="428.40" y="407.45" width="20.33" height="6.90" fill="#f6b800"/>
<text x="425.10" y="413.14" font-size="6.5" text-anchor="end" fill="#f4f7fc">7</text>
<text x="430.50" y="413.14" font-size="6.5" text-anchor="start" fill="#2a2a2a">26</text>
<text x="342.60" y="413.19" font-size="6.65" text-anchor="end" fill="#1e1e1e" font-weight="bold"><tspan font-style="italic">BCL6 rearrangement</tspan></text>
<text x="452.23" y="414.81" font-size="7.0" text-anchor="start" fill="#222">*</text>
<line x1="346.60" y1="415.00" x2="508.20" y2="415.00" stroke="#111" stroke-width="1.0"/>
<line x1="427.90" y1="415.00" x2="427.90" y2="417.40" stroke="#111" stroke-width="0.9"/>
<text x="427.90" y="427.28" font-size="6.9" text-anchor="middle" fill="#262626">0</text>
<line x1="412.04" y1="415.00" x2="412.04" y2="417.40" stroke="#111" stroke-width="0.9"/>
<text x="412.04" y="427.28" font-size="6.9" text-anchor="middle" fill="#262626">20</text>
<line x1="443.76" y1="415.00" x2="443.76" y2="417.40" stroke="#111" stroke-width="0.9"/>
<text x="443.76" y="427.28" font-size="6.9" text-anchor="middle" fill="#262626">20</text>
<line x1="396.18" y1="415.00" x2="396.18" y2="417.40" stroke="#111" stroke-width="0.9"/>
<text x="396.18" y="427.28" font-size="6.9" text-anchor="middle" fill="#262626">40</text>
<line x1="459.62" y1="415.00" x2="459.62" y2="417.40" stroke="#111" stroke-width="0.9"/>
<text x="459.62" y="427.28" font-size="6.9" text-anchor="middle" fill="#262626">40</text>
<line x1="380.32" y1="415.00" x2="380.32" y2="417.40" stroke="#111" stroke-width="0.9"/>
<text x="380.32" y="427.28" font-size="6.9" text-anchor="middle" fill="#262626">60</text>
<line x1="475.48" y1="415.00" x2="475.48" y2="417.40" stroke="#111" stroke-width="0.9"/>
<text x="475.48" y="427.28" font-size="6.9" text-anchor="middle" fill="#262626">60</text>
<line x1="364.46" y1="415.00" x2="364.46" y2="417.40" stroke="#111" stroke-width="0.9"/>
<text x="364.46" y="427.28" font-size="6.9" text-anchor="middle" fill="#262626">80</text>
<line x1="491.34" y1="415.00" x2="491.34" y2="417.40" stroke="#111" stroke-width="0.9"/>
<text x="491.34" y="427.28" font-size="6.9" text-anchor="middle" fill="#262626">80</text>
<line x1="348.60" y1="415.00" x2="348.60" y2="417.40" stroke="#111" stroke-width="0.9"/>
<text x="348.60" y="427.28" font-size="6.9" text-anchor="middle" fill="#262626">100</text>
<line x1="507.20" y1="415.00" x2="507.20" y2="417.40" stroke="#111" stroke-width="0.9"/>
<text x="507.20" y="427.28" font-size="6.9" text-anchor="middle" fill="#262626">100</text>
<text x="276.20" y="305.94" font-size="6.5" text-anchor="start" fill="#444">IPI:</text>
<text x="481.00" y="403.31" font-size="7.0" text-anchor="start" fill="#222">*</text>
<text x="487.60" y="401.57" font-size="6.3" text-anchor="start" fill="#333"><tspan font-style="italic">P</tspan> &lt; .05</text>
<text x="479.60" y="412.62" font-size="7.0" text-anchor="start" fill="#222">**</text>
<text x="487.60" y="410.87" font-size="6.3" text-anchor="start" fill="#333"><tspan font-style="italic">P</tspan> &lt; .01</text>
<text x="428.20" y="438.87" font-size="9.2" text-anchor="middle" fill="#1e1e1e" textLength="44.70" lengthAdjust="spacingAndGlyphs" stroke="#1e1e1e" stroke-width="0.18">Percent of cases</text>
<text x="303.40" y="16.59" font-size="11.0" text-anchor="start" fill="#111" font-weight="bold" stroke="#111" stroke-width="0.3">B</text>
<text x="311.60" y="27.45" font-size="6.8" text-anchor="start" fill="#111" font-weight="bold" textLength="37.20" lengthAdjust="spacingAndGlyphs">Morphology</text>
<text x="383.40" y="26.65" font-size="6.8" text-anchor="start" fill="#111" font-weight="bold" textLength="34.80" lengthAdjust="spacingAndGlyphs"><tspan font-style="italic">MYC</tspan> FISH</text>
<text x="452.30" y="26.55" font-size="6.8" text-anchor="start" fill="#111" font-weight="bold" textLength="36.90" lengthAdjust="spacingAndGlyphs"><tspan font-style="italic">BCL2</tspan> FISH</text>
<line x1="311.60" y1="31.40" x2="489.50" y2="31.40" stroke="#222" stroke-width="1.0"/>
<path d="M334.60,112.00 C349.48,112.00 369.32,80.60 384.20,80.60 L384.20,81.90 C369.32,81.90 349.48,114.00 334.60,114.00 Z" fill="url(#g0)" fill-opacity="0.5"/>
<path d="M334.60,114.00 C349.48,114.00 369.32,129.00 384.20,129.00 L384.20,149.00 C369.32,149.00 349.48,134.10 334.60,134.10 Z" fill="url(#g1)" fill-opacity="0.7"/>
<path d="M334.60,35.90 C349.48,35.90 369.32,36.00 384.20,36.00 L384.20,58.00 C369.32,58.00 349.48,58.00 334.60,58.00 Z" fill="url(#g2)" fill-opacity="0.75"/>
<path d="M334.60,58.00 C349.48,58.00 369.32,76.60 384.20,76.60 L384.20,80.60 C369.32,80.60 349.48,64.00 334.60,64.00 Z" fill="url(#g3)" fill-opacity="0.75"/>
<path d="M334.60,64.00 C349.48,64.00 369.32,90.90 384.20,90.90 L384.20,129.00 C369.32,129.00 349.48,102.80 334.60,102.80 Z" fill="url(#g4)" fill-opacity="0.85"/>
<path d="M334.60,106.20 C349.48,106.20 369.32,58.00 384.20,58.00 L384.20,61.00 C369.32,61.00 349.48,112.00 334.60,112.00 Z" fill="url(#g5)" fill-opacity="0.75"/>
<path d="M334.60,137.40 C349.48,137.40 369.32,61.00 384.20,61.00 L384.20,72.20 C369.32,72.20 349.48,148.50 334.60,148.50 Z" fill="url(#g6)" fill-opacity="0.72"/>
<path d="M334.60,148.50 C349.48,148.50 369.32,81.90 384.20,81.90 L384.20,87.40 C369.32,87.40 349.48,154.00 334.60,154.00 Z" fill="url(#g7)" fill-opacity="0.72"/>
<path d="M334.60,154.00 C349.48,154.00 369.32,150.00 384.20,150.00 L384.20,183.30 C369.32,183.30 349.48,183.30 334.60,183.30 Z" fill="url(#g8)" fill-opacity="0.75"/>
<path d="M417.00,90.90 C430.30,90.90 451.20,38.80 464.50,38.80 L464.50,52.80 C451.20,52.80 430.30,105.00 417.00,105.00 Z" fill="url(#g9)" fill-opacity="0.85"/>
<path d="M417.00,105.00 C430.30,105.00 451.20,66.20 464.50,66.20 L464.50,70.20 C451.20,70.20 430.30,109.00 417.00,109.00 Z" fill="url(#g10)" fill-opacity="0.7"/>
<path d="M417.00,111.50 C430.30,111.50 451.20,108.10 464.50,108.10 L464.50,158.00 C451.20,158.00 430.30,161.00 417.00,161.00 Z" fill="url(#g11)" fill-opacity="1.0"/>
<path d="M417.00,163.00 C430.30,163.00 451.20,162.20 464.50,162.20 L464.50,183.30 C451.20,183.30 430.30,183.30 417.00,183.30 Z" fill="url(#g12)" fill-opacity="1.0"/>
<path d="M417.00,76.60 C430.30,76.60 451.20,35.40 464.50,35.40 L464.50,38.80 C451.20,38.80 430.30,80.00 417.00,80.00 Z" fill="url(#g13)" fill-opacity="0.5"/>
<path d="M417.00,80.00 C430.30,80.00 451.20,63.70 464.50,63.70 L464.50,66.20 C451.20,66.20 430.30,82.50 417.00,82.50 Z" fill="url(#g14)" fill-opacity="0.5"/>
<path d="M417.00,83.50 C430.30,83.50 451.20,99.70 464.50,99.70 L464.50,103.60 C451.20,103.60 430.30,87.40 417.00,87.40 Z" fill="url(#g15)" fill-opacity="0.5"/>
<path d="M417.00,36.70 C430.30,36.70 451.20,54.40 464.50,54.40 L464.50,63.70 C451.20,63.70 430.30,46.00 417.00,46.00 Z" fill="url(#g16)" fill-opacity="0.85"/>
<path d="M417.00,46.00 C430.30,46.00 451.20,73.50 464.50,73.50 L464.50,99.70 C451.20,99.70 430.30,72.20 417.00,72.20 Z" fill="url(#g17)" fill-opacity="0.85"/>
<rect x="311.90" y="35.90" width="22.70" height="66.90" fill="#f39200"/>
<rect x="311.90" y="106.20" width="22.70" height="27.90" fill="#35a6df"/>
<rect x="311.90" y="137.40" width="22.70" height="45.90" fill="#3bab3a"/>
<rect x="384.20" y="36.00" width="32.80" height="36.20" fill="#e67e78"/>
<rect x="384.20" y="76.60" width="32.80" height="10.80" fill="#f6b60a"/>
<rect x="384.20" y="90.90" width="32.80" height="92.40" fill="#d5d4d4"/>
<rect x="464.50" y="35.40" width="24.80" height="17.40" fill="#f1b7d1"/>
<rect x="464.50" y="55.40" width="24.80" height="14.80" fill="#b2acdc"/>
<rect x="464.50" y="73.50" width="24.80" height="84.50" fill="#d3d2d2"/>
<rect x="464.50" y="162.20" width="24.80" height="21.10" fill="#d6d5d5"/>
<text x="313.00" y="43.01" font-size="6.7" text-anchor="start" fill="#150c00" font-weight="bold" textLength="35.00" lengthAdjust="spacingAndGlyphs">Burkitt-like</text>
<text x="313.00" y="51.11" font-size="6.7" text-anchor="start" fill="#4a2800" textLength="19.60" lengthAdjust="spacingAndGlyphs"><tspan font-style="italic">N</tspan> = 72</text>
<text x="313.40" y="120.21" font-size="6.7" text-anchor="start" fill="#08182a" font-weight="bold" textLength="25.60" lengthAdjust="spacingAndGlyphs">Blastoid</text>
<text x="313.40" y="127.41" font-size="6.7" text-anchor="start" fill="#0e3a62" textLength="20.10" lengthAdjust="spacingAndGlyphs"><tspan font-style="italic">N</tspan> = 38</text>
<text x="312.80" y="167.71" font-size="6.7" text-anchor="start" fill="#061806" font-weight="bold" textLength="38.00" lengthAdjust="spacingAndGlyphs">Unspecified</text>
<text x="312.80" y="176.51" font-size="6.7" text-anchor="start" fill="#0e400e" textLength="20.10" lengthAdjust="spacingAndGlyphs"><tspan font-style="italic">N</tspan> = 50</text>
<text x="400.80" y="45.01" font-size="6.7" text-anchor="middle" fill="#2a0a0a" font-weight="bold" font-style="italic"><tspan font-style="italic">MYC</tspan>-R</text>
<text x="400.80" y="55.21" font-size="6.7" text-anchor="middle" fill="#5a2a2a">28%</text>
<text x="400.80" y="84.81" font-size="6.7" text-anchor="middle" fill="#3a2a00">EC, 11%</text>
<text x="400.80" y="137.91" font-size="6.7" text-anchor="middle" fill="#444">Negative</text>
<text x="400.80" y="145.11" font-size="6.7" text-anchor="middle" fill="#444">61%</text>
<text x="489.00" y="41.91" font-size="6.7" text-anchor="end" fill="#2a1020" font-weight="bold" font-style="italic">BCL2::IGH</text>
<text x="488.80" y="49.61" font-size="6.7" text-anchor="end" fill="#5a3a4a">11%</text>
<text x="488.80" y="65.01" font-size="6.7" text-anchor="end" fill="#3a3560">EC,10%</text>
<text x="488.80" y="114.61" font-size="6.7" text-anchor="end" fill="#444">Negative</text>
<text x="488.80" y="121.81" font-size="6.7" text-anchor="end" fill="#444">63%</text>
<text x="488.80" y="170.91" font-size="6.7" text-anchor="end" fill="#444">Not tested</text>
<text x="488.80" y="178.31" font-size="6.7" text-anchor="end" fill="#444">16%</text><rect x="0.5" y="0.5" width="519" height="447" fill="none" stroke="#555" stroke-width="1"/></svg></body></html>
